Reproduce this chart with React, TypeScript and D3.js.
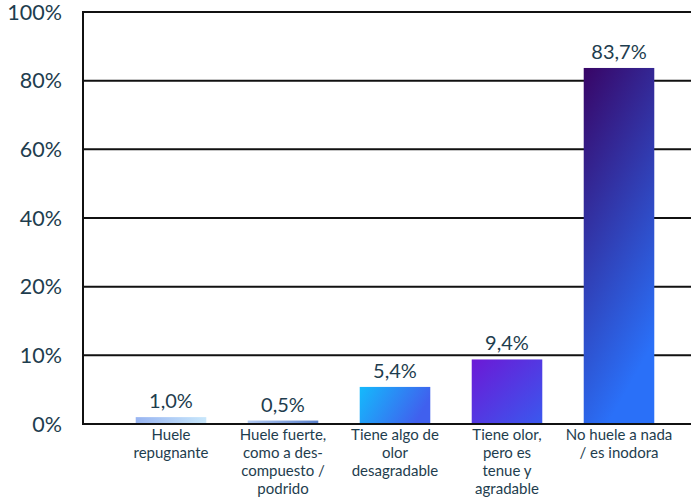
import React from "react";
import * as d3 from "d3";

const categories = [
  "Huele\nrepugnante",
  "Huele fuerte,\ncomo a des-\ncompuesto /\npodrido",
  "Tiene algo de\nolor\ndesagradable",
  "Tiene olor,\npero es\ntenue y\nagradable",
  "No huele a nada\n/ es inodora",
];
const values = [1.0, 0.5, 5.4, 9.4, 83.7];
const valueLabels = ["1,0%", "0,5%", "5,4%", "9,4%", "83,7%"];
const tickValues = [0, 10, 20, 40, 60, 80, 100];
const tickLabels = ["0%", "10%", "20%", "40%", "60%", "80%", "100%"];

const gradients = [
  { from: "#98b4f1", to: "#c8e7fb", x2: 1, y2: 0 },
  { from: "#b2caf2", to: "#5a80ca", x2: 1, y2: 0 },
  { from: "#14bafc", to: "#4060ee", x2: 1, y2: 0.3 },
  { from: "#6c19d6", to: "#3a58ee", x2: 1, y2: 1 },
  { from: "#380566", to: "#2a70f8", x2: 0.35, y2: 1 },
];

const W = 691;
const H = 497;
const left = 83;
const top = 12;
const bottom = 424;
const textColor = "#1e3d4e";
const font = "Lato, 'Open Sans', sans-serif";

export default function App() {
  const tickPos = d3
    .scalePoint<number>()
    .domain([...tickValues].reverse())
    .range([top, bottom]);
  const y = d3
    .scaleLinear()
    .domain(tickValues)
    .range(tickValues.map((t) => tickPos(t) as number));
  const x = d3
    .scaleBand<number>()
    .domain(d3.range(categories.length))
    .range([115, 675])
    .paddingInner(0.37)
    .paddingOuter(0.185);

  return (
    <svg
      width={W}
      height={H}
      style={{ position: "absolute", left: 0, top: 0, background: "#fff" }}
    >
      <defs>
        {gradients.map((g, i) => (
          <linearGradient key={i} id={`g${i}`} x1={0} y1={0} x2={g.x2} y2={g.y2}>
            <stop offset="0%" stopColor={g.from} />
            <stop offset="100%" stopColor={g.to} />
          </linearGradient>
        ))}
      </defs>
      {tickValues.map((t, i) => (
        <g key={t}>
          <line
            x1={left}
            x2={W}
            y1={y(t)}
            y2={y(t)}
            stroke="#111"
            strokeWidth={2}
          />
          <text
            x={62}
            y={y(t)}
            dy="0.36em"
            textAnchor="end"
            fontFamily={font}
            fontSize={21.5}
            fill={textColor}
          >
            {tickLabels[i]}
          </text>
        </g>
      ))}
      <line x1={left} x2={left} y1={top - 1} y2={bottom + 1} stroke="#111" strokeWidth={2} />
      {values.map((v, i) => {
        const bx = x(i) as number;
        const bw = x.bandwidth();
        const cx = bx + bw / 2;
        return (
          <g key={i}>
            <rect
              x={bx}
              y={y(v)}
              width={bw}
              height={y(0) - y(v) - 1}
              fill={`url(#g${i})`}
            />
            <text
              x={cx}
              y={y(v) - 9}
              textAnchor="middle"
              fontFamily={font}
              fontSize={20}
              fill={textColor}
            >
              {valueLabels[i]}
            </text>
            <text
              textAnchor="middle"
              fontFamily={font}
              fontSize={15}
              fill={textColor}
            >
              {categories[i].split("\n").map((line, j) => (
                <tspan key={j} x={cx} y={440 + j * 18}>
                  {line}
                </tspan>
              ))}
            </text>
          </g>
        );
      })}
    </svg>
  );
}
